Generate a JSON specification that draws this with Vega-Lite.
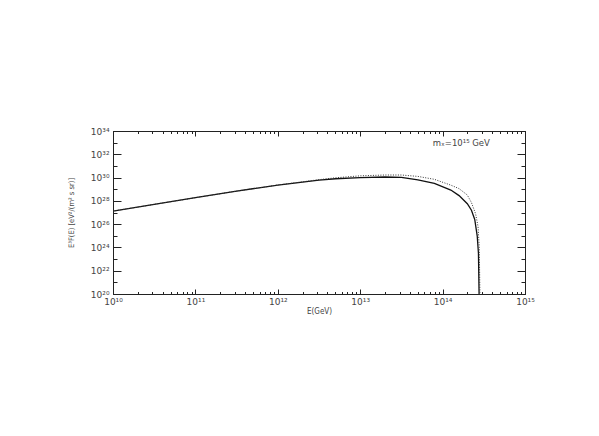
{
  "$schema": "https://vega.github.io/schema/vega-lite/v6.json",
  "width": 412,
  "height": 163,
  "autosize": {"type": "none"},
  "padding": {"left": 113, "top": 131, "right": 74, "bottom": 142},
  "background": "white",
  "config": {
    "view": {"stroke": "#222", "strokeWidth": 1},
    "font": "DejaVu Sans",
    "axis": {
      "domainColor": "#222", "tickColor": "#222", "labelColor": "#444", "titleColor": "#444",
      "labelFont": "DejaVu Sans", "titleFont": "Liberation Sans Narrow, DejaVu Sans Condensed, DejaVu Sans", "labelFontSize": 9, "titleFontSize": 8,
      "titleFontWeight": "normal", "grid": false, "domainWidth": 1, "tickWidth": 1
    }
  },
  "datasets": {
    "solid": [
      {"E": 1e10, "F": 1.318e27},
      {"E": 3.162e10, "F": 5.012e27},
      {"E": 1e11, "F": 1.862e28},
      {"E": 3.162e11, "F": 6.918e28},
      {"E": 1e12, "F": 2.239e29},
      {"E": 3.162e12, "F": 6.026e29},
      {"E": 5.012e12, "F": 7.943e29},
      {"E": 1e13, "F": 1.0e30},
      {"E": 1.995e13, "F": 1.122e30},
      {"E": 3.162e13, "F": 1.047e30},
      {"E": 5.012e13, "F": 6.310e29},
      {"E": 7.943e13, "F": 3.162e29},
      {"E": 1.259e14, "F": 8.511e28},
      {"E": 1.585e14, "F": 2.818e28},
      {"E": 1.995e14, "F": 5.623e27},
      {"E": 2.239e14, "F": 1.585e27},
      {"E": 2.455e14, "F": 2.512e26},
      {"E": 2.630e14, "F": 1.0e25},
      {"E": 2.723e14, "F": 3.162e23},
      {"E": 2.786e14, "F": 1.0e19}
    ],
    "dotted": [
      {"E": 1e10, "F": 1.318e27},
      {"E": 3.162e10, "F": 5.012e27},
      {"E": 1e11, "F": 1.862e28},
      {"E": 3.162e11, "F": 6.918e28},
      {"E": 1e12, "F": 2.291e29},
      {"E": 3.162e12, "F": 6.607e29},
      {"E": 5.012e12, "F": 9.550e29},
      {"E": 1e13, "F": 1.413e30},
      {"E": 1.995e13, "F": 1.660e30},
      {"E": 3.162e13, "F": 1.660e30},
      {"E": 5.012e13, "F": 1.259e30},
      {"E": 7.943e13, "F": 7.079e29},
      {"E": 1.259e14, "F": 2.239e29},
      {"E": 1.585e14, "F": 1.122e29},
      {"E": 1.995e14, "F": 3.162e28},
      {"E": 2.239e14, "F": 7.079e27},
      {"E": 2.512e14, "F": 7.943e26},
      {"E": 2.692e14, "F": 6.310e25},
      {"E": 2.786e14, "F": 1.0e24},
      {"E": 2.851e14, "F": 1.0e19}
    ],
    "note": [
      {"E": 7.6e13, "F": 1.0e33, "label": "mₓ=10¹⁵ GeV"}
    ]
  },
  "resolve": {"axis": {"x": "independent", "y": "independent"}},
  "layer": [
    {
      "data": {"name": "solid"},
      "mark": {"type": "line", "color": "#111", "strokeWidth": 1.3, "clip": true},
      "encoding": {
        "x": {"field": "E", "type": "quantitative",
          "scale": {"type": "log", "domain": [1e10, 1e15], "nice": false},
          "axis": {"orient": "bottom", "values": [1e10, 1e11, 1e12, 1e13, 1e14, 1e15],
            "tickSize": -5, "labelPadding": 8, "labelFlush": false, "labelOverlap": false,
            "labelExpr": "['10¹⁰','10¹¹','10¹²','10¹³','10¹⁴','10¹⁵'][round(log(datum.value)/LN10)-10]",
            "title": "E(GeV)", "titlePadding": 1}},
        "y": {"field": "F", "type": "quantitative",
          "scale": {"type": "log", "domain": [1e20, 1e34], "nice": false},
          "axis": {"orient": "left", "values": [1e20, 1e22, 1e24, 1e26, 1e28, 1e30, 1e32, 1e34],
            "tickSize": -8, "labelPadding": 12, "labelFlush": false, "labelOverlap": false,
            "labelExpr": "['10²⁰','10²²','10²⁴','10²⁶','10²⁸','10³⁰','10³²','10³⁴'][round((log(datum.value)/LN10-20)/2)]",
            "title": "E³F(E) [eV²/(m² s sr)]", "titleFontSize": 7.5, "titlePadding": 15}}
      }
    },
    {
      "data": {"name": "dotted"},
      "mark": {"type": "line", "color": "#333", "strokeWidth": 1, "strokeDash": [1, 1.5], "clip": true},
      "encoding": {
        "x": {"field": "E", "type": "quantitative",
          "axis": {"orient": "top", "values": [1e10, 1e11, 1e12, 1e13, 1e14, 1e15],
            "tickSize": -5, "labels": false, "title": null}},
        "y": {"field": "F", "type": "quantitative",
          "axis": {"orient": "right", "values": [1e20, 1e22, 1e24, 1e26, 1e28, 1e30, 1e32, 1e34],
            "tickSize": -8, "labels": false, "title": null}}
      }
    },
    {
      "data": {"name": "solid"},
      "mark": {"type": "line", "strokeOpacity": 0, "clip": true},
      "encoding": {
        "x": {"field": "E", "type": "quantitative",
          "axis": {"orient": "bottom", "domain": false, "labels": false, "title": null, "tickSize": -2.5,
            "values": [2e10,3e10,4e10,5e10,6e10,7e10,8e10,9e10,2e11,3e11,4e11,5e11,6e11,7e11,8e11,9e11,2e12,3e12,4e12,5e12,6e12,7e12,8e12,9e12,2e13,3e13,4e13,5e13,6e13,7e13,8e13,9e13,2e14,3e14,4e14,5e14,6e14,7e14,8e14,9e14]}},
        "y": {"field": "F", "type": "quantitative",
          "axis": {"orient": "left", "domain": false, "labels": false, "title": null, "tickSize": -4,
            "values": [1e21, 1e23, 1e25, 1e27, 1e29, 1e31, 1e33]}}
      }
    },
    {
      "data": {"name": "solid"},
      "mark": {"type": "line", "strokeOpacity": 0, "clip": true},
      "encoding": {
        "x": {"field": "E", "type": "quantitative",
          "axis": {"orient": "top", "domain": false, "labels": false, "title": null, "tickSize": -2.5,
            "values": [2e10,3e10,4e10,5e10,6e10,7e10,8e10,9e10,2e11,3e11,4e11,5e11,6e11,7e11,8e11,9e11,2e12,3e12,4e12,5e12,6e12,7e12,8e12,9e12,2e13,3e13,4e13,5e13,6e13,7e13,8e13,9e13,2e14,3e14,4e14,5e14,6e14,7e14,8e14,9e14]}},
        "y": {"field": "F", "type": "quantitative",
          "axis": {"orient": "right", "domain": false, "labels": false, "title": null, "tickSize": -4,
            "values": [1e21, 1e23, 1e25, 1e27, 1e29, 1e31, 1e33]}}
      }
    },
    {
      "data": {"name": "note"},
      "mark": {"type": "text", "align": "left", "baseline": "middle", "fontSize": 8.5, "color": "#444", "font": "DejaVu Sans"},
      "encoding": {
        "x": {"field": "E", "type": "quantitative", "axis": null},
        "y": {"field": "F", "type": "quantitative", "axis": null},
        "text": {"field": "label"}
      }
    }
  ]
}
